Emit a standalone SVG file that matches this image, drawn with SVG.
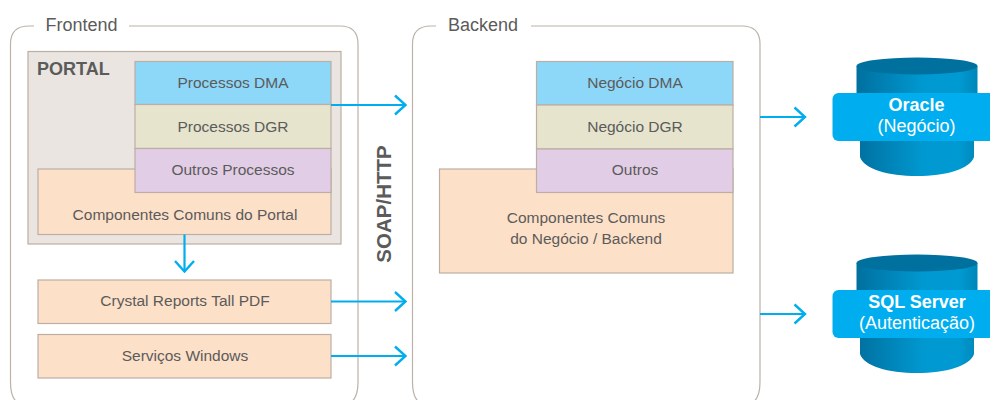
<svg xmlns="http://www.w3.org/2000/svg" width="990" height="400" viewBox="0 0 990 400">
<style>
text{font-family:"Liberation Sans",Arial,sans-serif;font-size:15.500px;fill:#5b5b5b;text-anchor:middle}
.frame{fill:none;stroke:#bdb2a8;stroke-width:1.2}
.box{stroke:#bcaea2;stroke-width:1.2}
.peach{fill:#fde0c8}
.blue{fill:#8dd7f8}
.olive{fill:#e6e4cd}
.lilac{fill:#e2cde6}
.title{font-size:18px;text-anchor:start}
.arrow{fill:none;stroke:#00aeef;stroke-width:2.2}
.band{fill:#00aeef}
.dbt{fill:#fff;font-size:18px}
.dbb{font-weight:bold}
.cyl{fill:url(#cylGrad)}
.cap{fill:#00709f}
</style>
<defs>
<linearGradient id="cylGrad" x1="0" y1="0" x2="1" y2="0">
<stop offset="0" stop-color="#00709f"/>
<stop offset="0.55" stop-color="#0098d0"/>
<stop offset="0.85" stop-color="#009ad2"/>
<stop offset="1" stop-color="#0086b8"/>
</linearGradient>
<marker id="chev" viewBox="0 0 14 22" refX="12.5" refY="11" markerWidth="14" markerHeight="22" markerUnits="userSpaceOnUse" orient="auto">
<path d="M2 1.5L12.5 11L2 20.5" fill="none" stroke="#00aeef" stroke-width="2.4"/>
</marker>
</defs>

<g id="frontend">
<path class="frame" d="M34 26H29Q10.500 26 10.500 44V382Q10.500 400 20 404M129 26H340Q358 26 358 44V382Q358 400 348 404"/>
<text class="title" x="45.500" y="31">Frontend</text>
</g>
<g id="portal">
<rect x="28" y="51.500" width="313" height="192.500" fill="#eae5e0" stroke="#bcaea2" stroke-width="1.200"/>
<text x="37" y="74.500" style="text-anchor:start;font-weight:bold;font-size:18px">PORTAL</text>
</g>
<g id="componentes-portal">
<rect class="box peach" x="38" y="169" width="293" height="65.500"/>
<text x="185" y="220">Componentes Comuns do Portal</text>
</g>
<g id="processos-dma">
<rect class="box blue" x="135" y="61.500" width="196" height="43"/>
<text x="233" y="88">Processos DMA</text>
</g>
<g id="processos-dgr">
<rect class="box olive" x="135" y="104.500" width="196" height="44"/>
<text x="233" y="132">Processos DGR</text>
</g>
<g id="outros-processos">
<rect class="box lilac" x="135" y="148.500" width="196" height="44"/>
<text x="233" y="175">Outros Processos</text>
</g>
<g id="crystal">
<rect class="box peach" x="38" y="280" width="293" height="43.500"/>
<text x="185" y="306">Crystal Reports Tall PDF</text>
</g>
<g id="servicos">
<rect class="box peach" x="38" y="334.500" width="293" height="43.500"/>
<text x="185" y="361">Serviços Windows</text>
</g>

<g id="backend">
<path class="frame" d="M436 26H431Q412.500 26 412.500 44V382Q412.500 400 422 404M531 26H742Q760 26 760 44V382Q760 400 750 404"/>
<text class="title" x="448" y="31">Backend</text>
</g>
<g id="componentes-negocio">
<rect class="box peach" x="439.500" y="169" width="293.500" height="104"/>
<text x="586" y="223">Componentes Comuns</text>
<text x="586" y="244">do Negócio / Backend</text>
</g>
<g id="negocio-dma">
<rect class="box blue" x="536.500" y="61.500" width="196.500" height="43.500"/>
<text x="635" y="88">Negócio DMA</text>
</g>
<g id="negocio-dgr">
<rect class="box olive" x="536.500" y="105" width="196.500" height="44"/>
<text x="635" y="132">Negócio DGR</text>
</g>
<g id="outros">
<rect class="box lilac" x="536.500" y="149" width="196.500" height="43.500"/>
<text x="635" y="175">Outros</text>
</g>

<text id="soap" transform="translate(391 204) rotate(-90)" style="font-weight:bold;font-size:20.500px">SOAP/HTTP</text>

<g id="oracle">
<path class="cyl" d="M856.500 66V93H860V157C864 169 888 176 917 176C946 176 970 169 974 157V141H977.500V66Z"/>
<ellipse class="cap" cx="917" cy="66" rx="60.500" ry="8.500"/>
<path class="band" d="M990 93H838.500A6 6 0 0 0 832.500 99V135A6 6 0 0 0 838.500 141H990Z"/>
<text class="dbt dbb" x="916.500" y="111">Oracle</text>
<text class="dbt" x="916.500" y="132">(Negócio)</text>
</g>
<g id="sqlserver">
<path class="cyl" d="M856.500 263V290H860V354C864 366 888 373 917 373C946 373 970 366 974 354V338H977.500V263Z"/>
<ellipse class="cap" cx="917" cy="263" rx="60.500" ry="8.500"/>
<path class="band" d="M990 290H838.500A6 6 0 0 0 832.500 296V332A6 6 0 0 0 838.500 338H990Z"/>
<text class="dbt dbb" x="917" y="308">SQL Server</text>
<text class="dbt" x="917" y="329">(Autenticação)</text>
</g>

<g id="connectors">
<path class="arrow" marker-end="url(#chev)" d="M331 105H405.500"/>
<path class="arrow" marker-end="url(#chev)" d="M331 301.500H405.500"/>
<path class="arrow" marker-end="url(#chev)" d="M331 356H405.500"/>
<path class="arrow" marker-end="url(#chev)" d="M184.500 234.500V271.500"/>
<path class="arrow" marker-end="url(#chev)" d="M760 117H805"/>
<path class="arrow" marker-end="url(#chev)" d="M760 314H805"/>
</g>
</svg>
